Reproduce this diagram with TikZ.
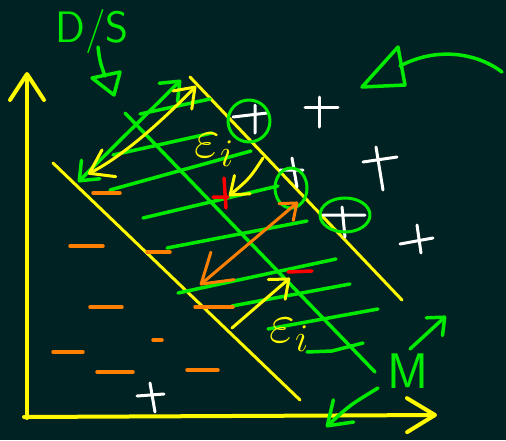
\RequirePackage{fix-cm}
\documentclass[tikz,border=0pt]{standalone}
\usetikzlibrary{arrows.meta}
\definecolor{board}{RGB}{0,34,34}
\definecolor{chalkyellow}{RGB}{255,250,0}
\definecolor{chalkgreen}{RGB}{0,235,0}
\definecolor{chalkorange}{RGB}{255,128,0}
\definecolor{chalkred}{RGB}{255,0,0}
\begin{document}
\begin{tikzpicture}[x=1pt, y=-1pt, line join=round, line cap=round,
	yel/.style={chalkyellow, line width=3pt},
	grn/.style={chalkgreen, line width=3.5pt},
	minus/.style={chalkorange, line width=3.5pt},
	plus/.style={white, line width=3pt},
	hand/.style={font=\sffamily\fontsize{#1}{#1}\selectfont, inner sep=0pt}]
	\def \w{506}
	\def \h{440}
	\fill[board] (0,0) rectangle (\w,\h);
	% axes
	\draw[yel, line width=4pt, -{Straight Barb[length=26pt, width=34pt, round]}] (27,418) -- (27,72);
	\draw[yel, line width=4pt, -{Straight Barb[length=28pt, width=34pt, round]}] (24,417) -- (437,415);
	% slab edges and middle line
	\draw[yel] (53,163) -- (300,400);
	\draw[yel] (190,77) -- (402,300);
	\draw[grn] (125,113) -- (375,372);
	% field lines
	\foreach \xa/\ya/\xb/\yb in {140/114/210/99, 113/155/212/133, 110/190/251/151, 143/218/278/186,
		167/248/307/221, 178/293/336/259, 232/306/350/284, 268/329/378/309}
		\draw[grn] (\xa,\ya) -- (\xb,\yb);
	\draw[grn] (307,352) -- (332,351) -- (363,343);
	% negative charges
	\foreach \xa/\xb/\y in {93/120/193, 70/103/246, 147/170/252, 90/122/307, 195/233/307,
		53/83/352, 153/162/340, 97/133/372, 187/218/370}
		\draw[minus] (\xa,\y) -- (\xb,\y);
	% red charges
	\draw[chalkred, line width=3.5pt] (224,178) -- (226,208) (213,197) -- (228,197);
	\draw[chalkred, line width=3.5pt] (288,272) -- (312,271);
	% positive charges
	\draw[plus] (305,107) -- (338,107) (319,97) -- (319,127);
	\draw[plus] (363,162) -- (397,157) (376,147) -- (383,190);
	\draw[plus] (400,244) -- (433,238) (417,225) -- (421,253);
	\draw[plus] (137,396) -- (164,394) (150,383) -- (155,412);
	\draw[plus] (233,117) -- (267,113) (255,105) -- (255,133);
	\draw[plus] (323,215) -- (365,215) (342,207) -- (345,237);
	\draw[plus] (280,170) -- (303,170) (292,158) -- (297,187);
	% marked charges
	\draw[grn, line width=3pt] (249,121) circle (21pt);
	\draw[grn, line width=3pt] (291,188) ellipse (16pt and 20pt);
	\draw[grn, line width=3pt] (345,215) ellipse (25pt and 17pt);
	% arrows
	\draw[grn, {Straight Barb[length=16pt, width=26pt, round]}-{Straight Barb[length=16pt, width=26pt, round]}] (78,182) -- (181,80);
	\draw[yel, {Straight Barb[length=22pt, width=30pt, round]}-{Straight Barb[length=18pt, width=26pt, round]}] (88,174) .. controls (125,155) and (165,118) .. (196,86);
	\draw[yel, -{Straight Barb[length=16pt, width=24pt, round]}] (263,158) .. controls (250,178) .. (229,196);
	\draw[chalkorange, line width=3pt, {Straight Barb[length=28pt, width=36pt, round]}-{Straight Barb[length=14pt, width=22pt, round]}] (200,285) -- (298,202);
	\draw[yel, -{Straight Barb[length=16pt, width=26pt, round]}] (232,328) .. controls (262,302) .. (290,278);
	% labels
	\node[hand=44, chalkgreen] (ds) at (92,31) {D/S};
	\node[hand=50, chalkgreen] (mlabel) at (408,371) {M};
	\node[chalkyellow, inner sep=0pt, font=\fontsize{56}{56}\selectfont] (epsup) at (214,150) {$\varepsilon_i$};
	\node[chalkyellow, inner sep=0pt, font=\fontsize{56}{56}\selectfont] (epsdown) at (289,335) {$\varepsilon_i$};
	% hand drawn pointers
	\draw[grn] (98,47) .. controls (100,62) .. (105,76);
	\draw[grn] (92,78) -- (120,72) -- (114,95) -- cycle;
	\draw[grn] (502,72) .. controls (480,55) and (440,45) .. (400,66);
	\draw[grn] (362,87) -- (398,47) -- (405,85) -- cycle;
	\draw[grn, -{Straight Barb[length=14pt, width=24pt, round]}] (410,349) -- (446,316);
	\draw[grn, -{Straight Barb[length=22pt, width=30pt, round]}] (378,388) .. controls (350,405) .. (326,427);
\end{tikzpicture}
\end{document}
